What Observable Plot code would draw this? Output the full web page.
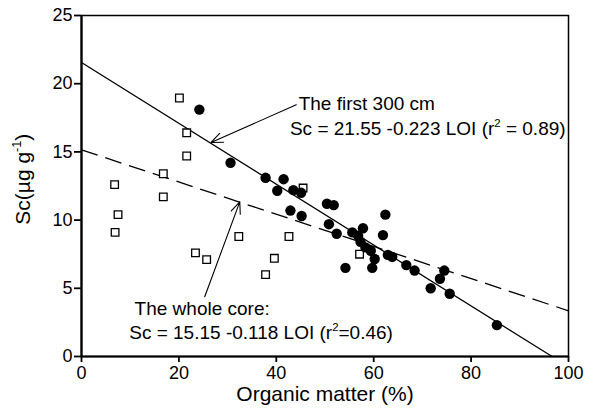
<!DOCTYPE html>
<html>
<head>
<meta charset="utf-8">
<script src="https://cdn.jsdelivr.net/npm/d3@7"></script>
<script src="https://cdn.jsdelivr.net/npm/@observablehq/plot@0.6"></script>
<style>
  html, body { margin: 0; padding: 0; background: #fff; }
  svg { display: block; }
</style>
</head>
<body>
<div id="chart"></div>
<script>
// Tick labels
const xTicks = [0, 20, 40, 60, 80, 100];
const yTicks = [0, 5, 10, 15, 20, 25];

// First 300 cm (filled circles): organic matter (%), Sc (µg/g)
const firstOM = [24.2, 30.6, 37.8, 41.5, 40.2, 43.5, 45.1, 42.9, 45.2, 50.4, 51.8, 50.8, 52.4, 54.2, 55.6, 57.8, 56.8, 57.3, 58.3, 59.4, 60.2, 59.7, 62.4, 61.9, 62.9, 63.8, 66.7, 68.4, 71.7, 73.6, 74.5, 75.6, 85.3];
const firstSc = [18.1, 14.2, 13.1, 13.0, 12.15, 12.2, 12.0, 10.7, 10.3, 11.2, 11.1, 9.7, 9.0, 6.5, 9.1, 9.4, 8.85, 8.4, 8.0, 7.75, 7.15, 6.5, 10.4, 8.9, 7.45, 7.3, 6.7, 6.3, 5.0, 5.7, 6.3, 4.6, 2.3];

// Deeper core (open squares)
const deepOM = [20.1, 21.6, 21.6, 6.8, 16.8, 16.8, 7.5, 6.9, 23.4, 25.7, 32.3, 37.8, 39.6, 42.6, 45.5, 57.1];
const deepSc = [18.95, 16.4, 14.7, 12.6, 13.4, 11.7, 10.4, 9.1, 7.6, 7.1, 8.8, 6.0, 7.2, 8.8, 12.35, 7.5];

// Regression fits
const fitNames = ["first", "whole"];
const fitIntercepts = [21.55, 15.15];
const fitSlopes = [-0.223, -0.118];

// Annotation texts and anchors (data units)
const noteTexts = ["The first 300 cm", "Sc = 21.55 -0.223 LOI (r^2^ = 0.89)", "The whole core:", "Sc = 15.15 -0.118 LOI (r^2^=0.46)"];
const noteX = [44.6, 42.8, 10.9, 9.8];
const noteY = [18.5, 16.72, 3.5, 1.72];
const arrowFromX = [44.1, 25.3];
const arrowFromY = [18.45, 4.38];
const arrowToX = [26.6, 32.5];
const arrowToY = [15.69, 11.34];

const xLabel = "Organic matter (%)";
const yLabel = "Sc(µg g^-1^)";
const yLabelPos = {x: -11.9, y: 13.0};

const first = firstOM.map((x, i) => ({x, y: firstSc[i]}));
const deep = deepOM.map((x, i) => ({x, y: deepSc[i]}));
const fits = fitNames.map((name, i) => {
  const b = fitIntercepts[i], m = fitSlopes[i];
  const x2 = Math.min(100, -b / m);
  return {name, x1: 0, y1: b, x2, y2: b + m * x2};
});
const notes = noteTexts.map((t, i) => ({t, x: noteX[i], y: noteY[i]}));
const arrows = arrowFromX.map((x, i) => ({x1: x, y1: arrowFromY[i], x2: arrowToX[i], y2: arrowToY[i]}));

const font = "'Liberation Sans', Arial, Helvetica, sans-serif";

const chart = Plot.plot({
  width: 598,
  height: 416,
  marginLeft: 81,
  marginRight: 30,
  marginTop: 15,
  marginBottom: 60,
  x: {domain: [0, 100]},
  y: {domain: [0, 25]},
  style: {fontFamily: font, fontSize: "18px", color: "black", background: "white", overflow: "visible"},
  marks: [
    Plot.frame({stroke: "black", strokeWidth: 1.5}),
    Plot.axisX({ticks: xTicks, tickSize: 6, tickPadding: 4, tickFormat: d => d, label: null, strokeWidth: 1.8, fontSize: 18}),
    Plot.axisY({ticks: yTicks, tickSize: 7, tickPadding: 2, tickFormat: d => d, label: null, strokeWidth: 1.8, fontSize: 18}),
    Plot.ruleX([0], {stroke: "black", strokeWidth: 2.2}),
    Plot.ruleY([0], {stroke: "black", strokeWidth: 2.2}),
    Plot.link(fits.filter(d => d.name === "first"), {x1: "x1", y1: "y1", x2: "x2", y2: "y2", stroke: "black", strokeWidth: 1.3}),
    Plot.link(fits.filter(d => d.name === "whole"), {x1: "x1", y1: "y1", x2: "x2", y2: "y2", stroke: "black", strokeWidth: 1.3, strokeDasharray: "17,8"}),
    Plot.dot(deep, {x: "x", y: "y", symbol: "square", r: 4.3, stroke: "black", strokeWidth: 1.3, fill: "white"}),
    Plot.dot(first, {x: "x", y: "y", r: 5.2, fill: "black", stroke: "none"}),
    Plot.arrow(arrows, {x1: "x1", y1: "y1", x2: "x2", y2: "y2", stroke: "black", strokeWidth: 1.1, headLength: 17, headAngle: 45, bend: false}),
    Plot.text(notes, {x: "x", y: "y", text: "t", textAnchor: "start", lineAnchor: "middle", fontSize: 19, fill: "black"}),
    Plot.text([xLabel], {text: d => d, frameAnchor: "bottom", dy: 38, textAnchor: "middle", lineAnchor: "middle", fontSize: 21, fill: "black"}),
    Plot.text([yLabelPos], {x: "x", y: "y", text: () => yLabel, rotate: -90, textAnchor: "middle", lineAnchor: "middle", fontSize: 21, fill: "black"})
  ]
});

// Render ^...^ segments as superscripts
d3.select(chart).selectAll("text").each(function() {
  const el = this;
  const s = el.textContent;
  if (!s.includes("^")) return;
  const parts = s.split("^");
  el.textContent = "";
  parts.forEach((p, i) => {
    if (!p) return;
    const t = document.createElementNS("http://www.w3.org/2000/svg", "tspan");
    t.textContent = p;
    if (i % 2 === 1) {
      t.setAttribute("font-size", "0.6em");
      t.setAttribute("baseline-shift", "70%");
    }
    el.appendChild(t);
  });
});

document.getElementById("chart").appendChild(chart);
</script>
</body>
</html>
